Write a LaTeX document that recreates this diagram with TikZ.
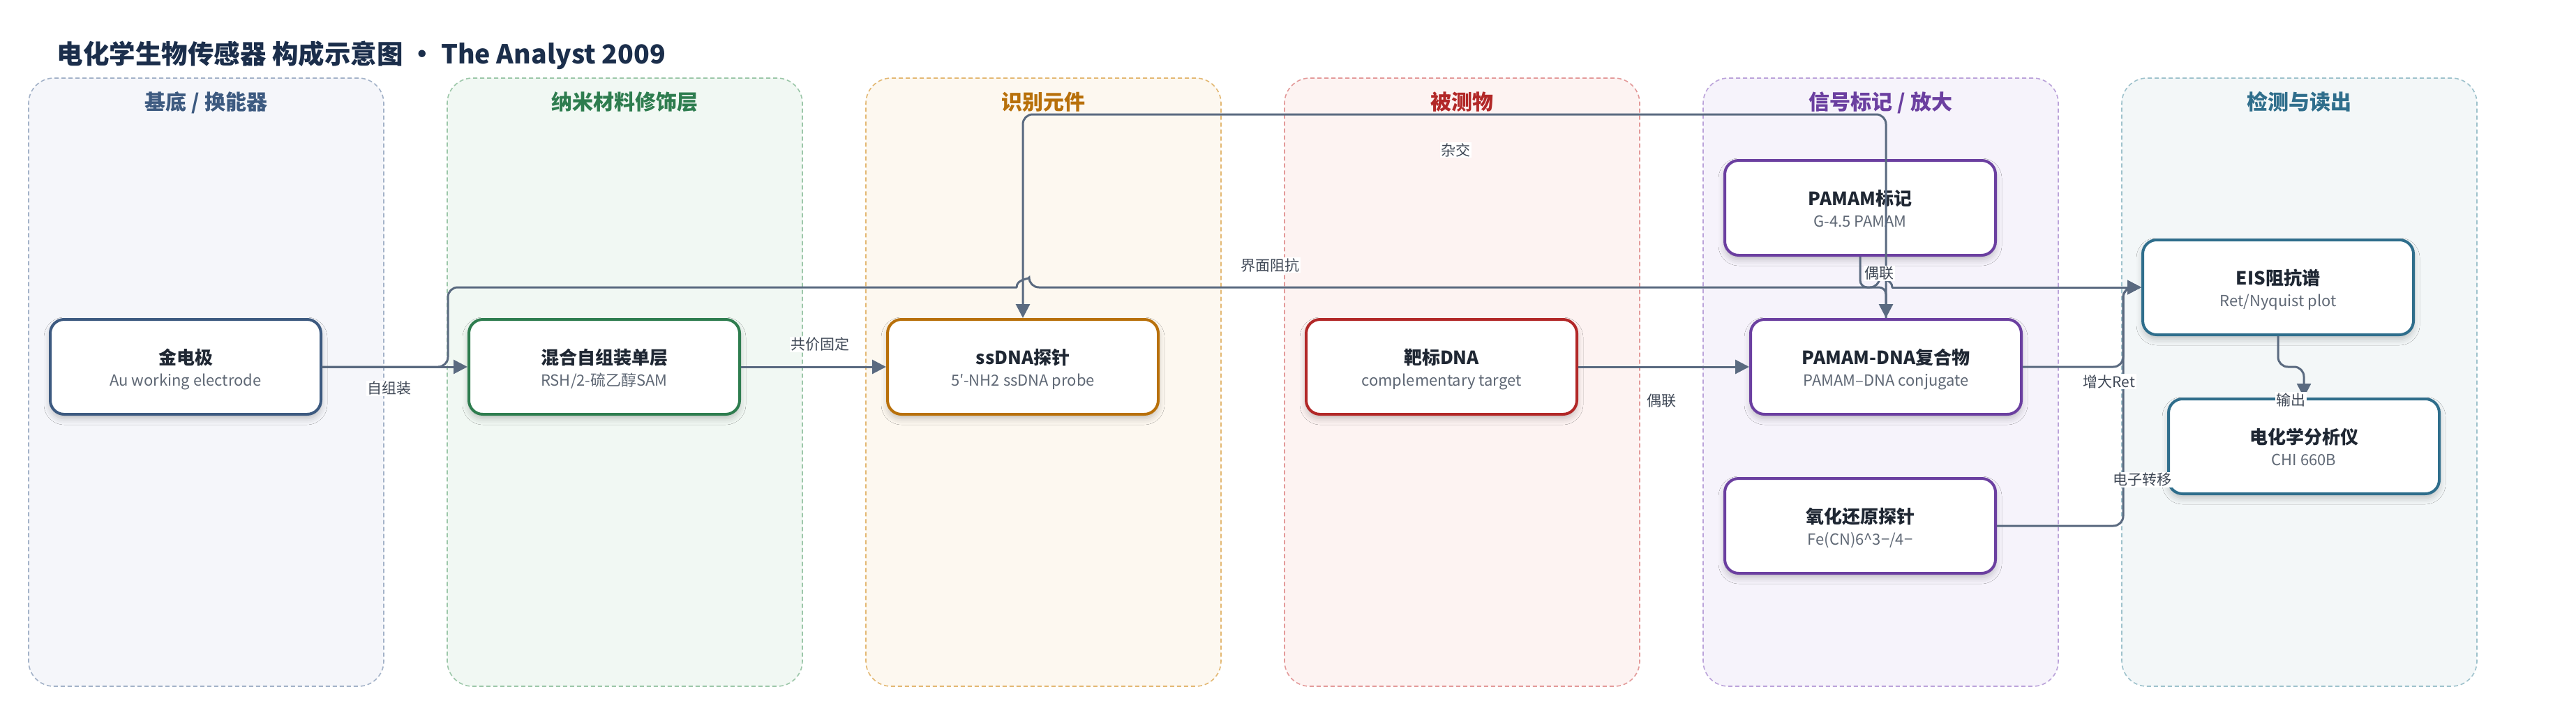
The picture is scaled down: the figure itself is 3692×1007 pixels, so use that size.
\documentclass[tikz,border=0pt]{standalone}
\usepackage{fontspec}
\setmainfont{Noto Sans CJK SC}
\usetikzlibrary{arrows.meta,shadows.blur}
\definecolor{conncol}{HTML}{5A6A80}
\definecolor{titlecol}{HTML}{1B2E4B}
\definecolor{boxtxt}{HTML}{1F2733}
\definecolor{subtxt}{HTML}{5F6875}
\definecolor{lbltxt}{HTML}{3F4856}
\definecolor{bgA}{HTML}{F5F6FA}\definecolor{bdA}{HTML}{A3B2C8}\definecolor{fgA}{HTML}{3D5A80}
\definecolor{bgB}{HTML}{F1F8F3}\definecolor{bdB}{HTML}{9CC7A9}\definecolor{fgB}{HTML}{2E7D4F}
\definecolor{bgC}{HTML}{FDF8F0}\definecolor{bdC}{HTML}{E3B873}\definecolor{fgC}{HTML}{B8700A}
\definecolor{bgD}{HTML}{FDF3F2}\definecolor{bdD}{HTML}{E39A9A}\definecolor{fgD}{HTML}{B22828}
\definecolor{bgE}{HTML}{F6F3FB}\definecolor{bdE}{HTML}{BBA3DA}\definecolor{fgE}{HTML}{6B3FA0}
\definecolor{bgF}{HTML}{F3F7F8}\definecolor{bdF}{HTML}{9EC2CC}\definecolor{fgF}{HTML}{2F6E8C}
\tikzset{
  lanebox/.style={line width=1.6pt, dash pattern=on 6pt off 4pt, rounded corners=36pt,
    minimum width=509pt, minimum height=872pt, inner sep=0pt},
  lanetitle/.style={font=\fontsize{30}{30}\selectfont\bfseries, anchor=base},
  stagebox/.style={draw, line width=4pt, fill=white, rounded corners=20pt,
    minimum width=388pt, minimum height=136pt, inner sep=0pt,
    blur shadow={shadow xshift=0pt, shadow yshift=-6pt, shadow blur radius=9pt, shadow opacity=22}},
  boxtitle/.style={font=\fontsize{26}{26}\selectfont\bfseries, text=boxtxt, anchor=base},
  boxsub/.style={font=\fontsize{22}{22}\selectfont, text=subtxt, anchor=base},
  conn/.style={draw=conncol, line width=3pt, rounded corners=14pt},
  tip/.style={-{Triangle[length=20pt,width=20pt]}},
  lbl/.style={fill=white, text=lbltxt, font=\fontsize{21}{21}\selectfont, inner sep=1.5pt}
}
\newcommand\mkstage[6]{%
  \node[stagebox, draw=#4] (#1) at (#2,#3) {};
  \node[boxtitle] at (#2,#3-4) {#5};
  \node[boxsub] at (#2,#3+27) {#6};}
\begin{document}
\begin{tikzpicture}[x=1pt,y=-1pt]
\useasboundingbox[fill=white] (0,0) rectangle (3692,1007);
% title
\node[anchor=base west, text=titlecol, font=\fontsize{37.5}{37.5}\selectfont\bfseries] (title) at (78,91)
  {电化学生物传感器 构成示意图 · The Analyst 2009};
% lanes
\node[lanebox, fill=bgA, draw=bdA] (laneA) at (295.5,548) {};
\node[lanebox, fill=bgB, draw=bdB] (laneB) at (895.5,548) {};
\node[lanebox, fill=bgC, draw=bdC] (laneC) at (1495.5,548) {};
\node[lanebox, fill=bgD, draw=bdD] (laneD) at (2095.5,548) {};
\node[lanebox, fill=bgE, draw=bdE] (laneE) at (2695.5,548) {};
\node[lanebox, fill=bgF, draw=bdF] (laneF) at (3295.5,548) {};
\node[lanetitle, text=fgA] (tA) at (295.5,157) {基底 / 换能器};
\node[lanetitle, text=fgB] (tB) at (895.5,157) {纳米材料修饰层};
\node[lanetitle, text=fgC] (tC) at (1495.5,157) {识别元件};
\node[lanetitle, text=fgD] (tD) at (2095.5,157) {被测物};
\node[lanetitle, text=fgE] (tE) at (2695.5,157) {信号标记 / 放大};
\node[lanetitle, text=fgF] (tF) at (3295.5,157) {检测与读出};
% boxes
\mkstage{au}{266}{526}{fgA}{金电极}{Au working electrode}
\mkstage{sam}{866}{526}{fgB}{混合自组装单层}{RSH/2-硫乙醇SAM}
\mkstage{ssdna}{1466}{526}{fgC}{ssDNA探针}{5′-NH2 ssDNA probe}
\mkstage{tgt}{2066}{526}{fgD}{靶标DNA}{complementary target}
\mkstage{pamam}{2666}{298}{fgE}{PAMAM标记}{G-4.5 PAMAM}
\mkstage{pdna}{2703}{526}{fgE}{PAMAM-DNA复合物}{PAMAM–DNA conjugate}
\mkstage{redox}{2666}{754}{fgE}{氧化还原探针}{Fe(CN)6\textasciicircum3−/4−}
\mkstage{eis}{3265}{412}{fgF}{EIS阻抗谱}{Ret/Nyquist plot}
\mkstage{chi}{3302}{640}{fgF}{电化学分析仪}{CHI 660B}
% connectors
\draw[conn,tip] (au.east) -- (sam.west);
\draw[conn,tip] (sam.east) -- (ssdna.west);
\draw[conn,line cap=round] (au.east) -- (642,526) -- (642,412) -- (1457,412);
\draw[conn,line cap=round] (1457,412) .. controls (1457,400) and (1475,400) .. (1475,412)
  -- (2694,412) .. controls (2694,400) and (2712,400) .. (2712,412);
\draw[conn,tip,line cap=round] (2712,412) -- (eis.west);
\draw[conn,tip] (pdna.north) -- (pdna.north |- 0,164) -- (ssdna.north |- 0,164) -- (ssdna.north);
\draw[conn,tip,rounded corners=10pt] (pamam.south) -- (pamam.south |- 0,412) -- (pdna.north |- 0,412) -- (pdna.north);
\draw[conn,tip] (tgt.east) -- (pdna.west);
\draw[conn,tip] (pdna.east) -- (3043,526) -- (3043,412) -- (eis.west);
\draw[conn,tip] (redox.east) -- (3043,754) -- (3043,412) -- (eis.west);
\draw[conn,tip] (eis.south) -- (eis.south |- 0,526) -- (chi.north |- 0,526) -- (chi.north);
% labels
\node[lbl] (l1) at (558,557) {自组装};
\node[lbl] (l2) at (1175,494) {共价固定};
\node[lbl] (l3) at (1820,380) {界面阻抗};
\node[lbl] (l4) at (2086,215) {杂交};
\node[lbl] (l5) at (2381,575) {偶联};
\node[lbl] (l6) at (2693,392) {偶联};
\node[lbl] (l7) at (3023,547) {增大Ret};
\node[lbl] (l8) at (3070,688) {电子转移};
\node[lbl] (l9) at (3283,573) {输出};
\end{tikzpicture}
\end{document}
